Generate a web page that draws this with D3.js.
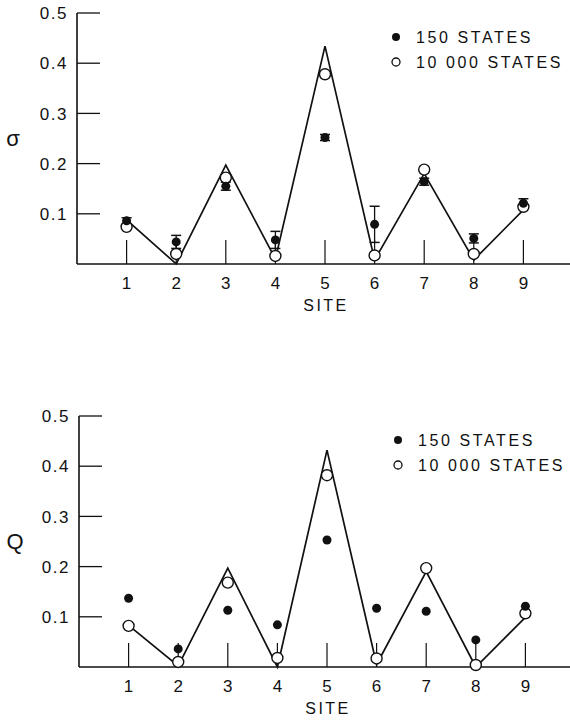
<!DOCTYPE html>
<html>
<head>
<meta charset="utf-8">
<script src="https://cdn.jsdelivr.net/npm/d3@7"></script>
<style>
  body { margin: 0; background: #fff; }
  text { font-family: "Liberation Sans", Arial, sans-serif; fill: #111; }
</style>
</head>
<body>
<svg id="chart" width="570" height="722"></svg>
<script>
// sites along the x axis
const sites = [1, 2, 3, 4, 5, 6, 7, 8, 9]
const yTicks = [0.1, 0.2, 0.3, 0.4, 0.5]
const yTickLabels = ['0.1', '0.2', '0.3', '0.4', '0.5']
const legendLabels = ['150  STATES', '10 000 STATES']

// top panel (sigma)
const sigmaTheory = [0.088, 0.0, 0.197, 0.01, 0.434, 0.008, 0.18, 0.008, 0.108]
const sigma10000 = [0.074, 0.02, 0.172, 0.016, 0.378, 0.017, 0.188, 0.02, 0.114]
const sigma150 = [0.086, 0.044, 0.155, 0.048, 0.252, 0.079, 0.164, 0.051, 0.121]
const sigma150Err = [0.006, 0.013, 0.008, 0.017, 0.006, 0.036, 0.007, 0.009, 0.009]

// bottom panel (Q)
const qTheory = [0.083, 0.002, 0.197, 0.0, 0.432, 0.005, 0.19, 0.0, 0.099]
const q10000 = [0.082, 0.01, 0.168, 0.018, 0.382, 0.017, 0.197, 0.004, 0.107]
const q150 = [0.137, 0.036, 0.113, 0.084, 0.253, 0.117, 0.111, 0.054, 0.121]

const svg = d3.select('#chart')

function panel(o) {
  const x = d3.scaleLinear().domain([0, 10]).range([o.left, o.left + 496])
  const y = d3.scaleLinear().domain([0, 0.5]).range([o.base, o.top])
  const g = svg.append('g')

  // axes
  g.append('line').attr('x1', x(0)).attr('x2', 570).attr('y1', y(0)).attr('y2', y(0))
    .attr('stroke', '#111').attr('stroke-width', 1.6)
  g.append('line').attr('x1', x(0)).attr('x2', x(0)).attr('y1', y(0)).attr('y2', y(0.5))
    .attr('stroke', '#111').attr('stroke-width', 1.6)

  g.selectAll('.yt').data(yTicks).enter().append('line')
    .attr('x1', x(0)).attr('x2', x(0) + 23)
    .attr('y1', d => y(d)).attr('y2', d => y(d))
    .attr('stroke', '#111').attr('stroke-width', 1.3)
  g.selectAll('.ytl').data(yTicks).enter().append('text')
    .attr('x', x(0) - 9).attr('y', d => y(d)).attr('dy', '0.36em')
    .attr('text-anchor', 'end').style('font-size', '17px').style('letter-spacing', '1.5px')
    .text((d, i) => yTickLabels[i])

  g.selectAll('.xt').data(sites).enter().append('line')
    .attr('x1', d => x(d)).attr('x2', d => x(d))
    .attr('y1', y(0)).attr('y2', y(0.048))
    .attr('stroke', '#111').attr('stroke-width', 1.2)
  g.selectAll('.xtl').data(sites).enter().append('text')
    .attr('x', d => x(d)).attr('y', y(0) + 25)
    .attr('text-anchor', 'middle').style('font-size', '17px')
    .text(d => d)
  g.append('text').attr('x', x(5) + 1).attr('y', y(0) + 47)
    .attr('text-anchor', 'middle').style('font-size', '16px').style('letter-spacing', '2.5px')
    .text('SITE')

  g.append('text').attr('x', o.labelX).attr('y', y(0.25)).attr('dy', '0.36em')
    .attr('text-anchor', 'middle').style('font-size', o.labelSize)
    .text(o.label)

  // theory line
  const line = d3.line().x((d, i) => x(sites[i])).y(d => y(d))
  g.append('path').attr('d', line(o.theory))
    .attr('fill', 'none').attr('stroke', '#111').attr('stroke-width', 1.7)

  // error bars for 150 states
  if (o.err) {
    const eb = g.selectAll('.eb').data(o.filled).enter().append('g')
    eb.append('line').attr('x1', (d, i) => x(sites[i])).attr('x2', (d, i) => x(sites[i]))
      .attr('y1', (d, i) => y(d - o.err[i])).attr('y2', (d, i) => y(d + o.err[i]))
      .attr('stroke', '#111').attr('stroke-width', 1.3)
    eb.append('line').attr('x1', (d, i) => x(sites[i]) - 5).attr('x2', (d, i) => x(sites[i]) + 5)
      .attr('y1', (d, i) => y(d + o.err[i])).attr('y2', (d, i) => y(d + o.err[i]))
      .attr('stroke', '#111').attr('stroke-width', 1.5)
    eb.append('line').attr('x1', (d, i) => x(sites[i]) - 5).attr('x2', (d, i) => x(sites[i]) + 5)
      .attr('y1', (d, i) => y(d - o.err[i])).attr('y2', (d, i) => y(d - o.err[i]))
      .attr('stroke', '#111').attr('stroke-width', 1.5)
  }

  g.selectAll('.open').data(o.open).enter().append('circle')
    .attr('cx', (d, i) => x(sites[i])).attr('cy', d => y(d)).attr('r', 5.5)
    .attr('fill', '#fff').attr('stroke', '#111').attr('stroke-width', 1.4)
  g.selectAll('.fill').data(o.filled).enter().append('circle')
    .attr('cx', (d, i) => x(sites[i])).attr('cy', d => y(d)).attr('r', 4.5)
    .attr('fill', '#111')

  // legend
  const lg = g.append('g').attr('transform', `translate(${o.legX},${o.legY})`)
  lg.append('circle').attr('cx', 0).attr('cy', 0).attr('r', 4).attr('fill', '#111')
  lg.append('circle').attr('cx', 0).attr('cy', 25).attr('r', 4)
    .attr('fill', '#fff').attr('stroke', '#111').attr('stroke-width', 1.3)
  lg.selectAll('.lt').data(legendLabels).enter().append('text')
    .attr('x', 20).attr('y', (d, i) => i * 25).attr('dy', '0.36em')
    .style('font-size', '16px').style('letter-spacing', '2.6px')
    .text(d => d)
}

panel({ left: 77, top: 13, base: 264, label: 'σ', labelX: 13, labelSize: '22px',
  theory: sigmaTheory, open: sigma10000, filled: sigma150, err: sigma150Err, legX: 396, legY: 37 })
panel({ left: 79, top: 416, base: 667, label: 'Q', labelX: 15, labelSize: '22px',
  theory: qTheory, open: q10000, filled: q150, err: null, legX: 398, legY: 440 })
</script>
</body>
</html>
